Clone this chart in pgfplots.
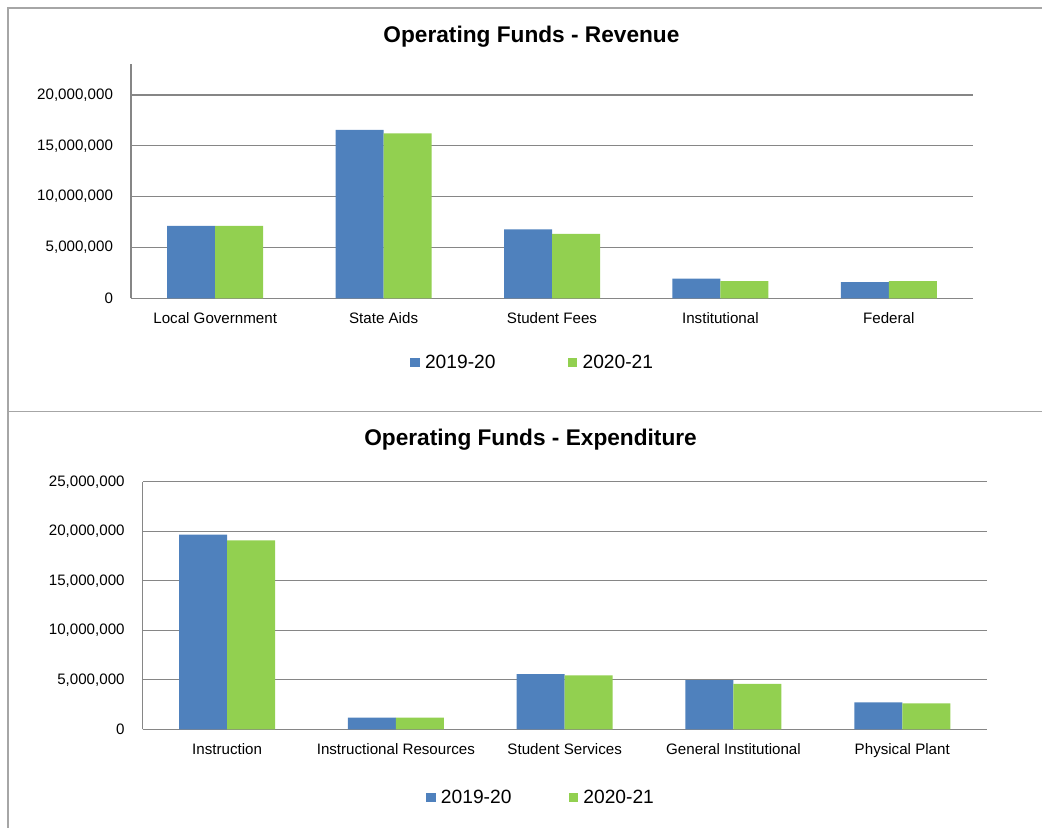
\documentclass[border=0pt]{standalone}
\usepackage{fontspec}
\setmainfont{Liberation Sans}
\usepackage{pgfplots}
\pgfplotsset{compat=1.18}
\definecolor{sblue}{HTML}{4F81BD}
\definecolor{sgreen}{HTML}{92D050}
\definecolor{gridgray}{HTML}{868686}
\definecolor{framegray}{HTML}{A6A6A6}
\pgfplotsset{
  mystyle/.style={
    scale only axis,
    ybar=0pt, bar width=36pt,
    xmin=-0.5, xmax=4.5,
    xtick={0,1,2,3,4},
    ymin=0,
    axis x line*=bottom, axis y line*=left,
    axis line style={draw=gridgray, -, line width=0.9pt},
    ymajorgrids, grid style={gridgray, line width=0.9pt},
    major tick length=0pt,
    scaled y ticks=false,
    tick label style={font=\fontsize{11.35}{13}\selectfont},
    yticklabel style={xshift=-10pt},
    xticklabel style={yshift=-7pt},
    /pgf/number format/fixed,
    /pgf/number format/precision=0,
    /pgf/number format/1000 sep={,},
    /pgf/number format/assume math mode=true,
    legend columns=2,
    legend image code/.code={\fill[##1] (0pt,-3.5pt) rectangle (7pt,3.5pt);},
  }
}
\begin{document}
\begin{tikzpicture}
\path[use as bounding box] (0pt,0pt) rectangle (781.5pt,621pt);
\draw[framegray, line width=0.8pt] (781.5pt,615pt) -- (6pt,615pt) -- (6pt,0pt);
\draw[framegray, line width=0.8pt] (6pt,312.4pt) -- (781.5pt,312.4pt);
\node[font=\fontsize{17}{20}\selectfont\bfseries] at (398.6pt,593.25pt) {Operating Funds - Revenue};
\node[font=\fontsize{17}{20}\selectfont\bfseries] at (397.9pt,291pt) {Operating Funds - Expenditure};

\begin{axis}[mystyle,
  at={(98.25pt,397.28pt)}, anchor=south west,
  width=631.5pt, height=175.7pt,
  ymax=23050000,
  ytick={0,5000000,10000000,15000000,20000000},
  xticklabels={Local Government, State Aids, Student Fees, Institutional, Federal},
  legend style={draw=none, fill=none, at={(0.4775,-0.275)}, anchor=center,
    font=\fontsize{14.4}{16}\selectfont,
    /tikz/every odd column/.append style={column sep=2pt},
    /tikz/every even column/.append style={column sep=52.3pt}},
]
\addplot[fill=sblue, draw=none] coordinates {(0,7120000) (1,16560000) (2,6790000) (3,1930000) (4,1600000)};
\addplot[fill=sgreen, draw=none] coordinates {(0,7120000) (1,16230000) (2,6330000) (3,1700000) (4,1700000)};
\legend{2019-20, 2020-21}
\end{axis}

\begin{axis}[mystyle,
  at={(107.0pt,74.0pt)}, anchor=south west,
  width=633pt, height=185.7pt,
  ymax=25000000,
  ytick={0,5000000,10000000,15000000,20000000,25000000},
  xticklabels={Instruction, Instructional Resources, Student Services, General Institutional, Physical Plant},
  legend style={draw=none, fill=none, at={(0.4725,-0.275)}, anchor=center,
    font=\fontsize{14.4}{16}\selectfont,
    /tikz/every odd column/.append style={column sep=2pt},
    /tikz/every even column/.append style={column sep=41pt}},
]
\addplot[fill=sblue, draw=none] coordinates {(0,19650000) (1,1170000) (2,5580000) (3,4960000) (4,2710000)};
\addplot[fill=sgreen, draw=none] coordinates {(0,19080000) (1,1170000) (2,5450000) (3,4590000) (4,2610000)};
\legend{2019-20, 2020-21}
\end{axis}
\end{tikzpicture}
\end{document}
